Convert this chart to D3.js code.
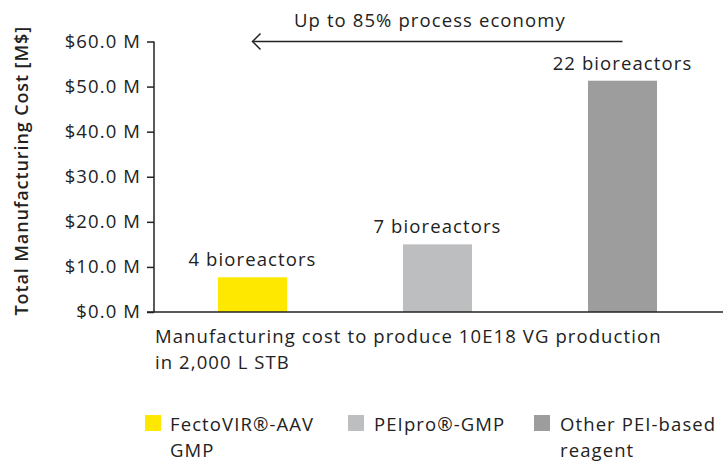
<!DOCTYPE html>
<html>
<head>
<meta charset="utf-8">
<script src="https://cdn.jsdelivr.net/npm/d3@7"></script>
<style>
  body { margin: 0; background: #fff; }
  svg { display: block; font-family: "Open Sans", sans-serif; letter-spacing: 1.1px; }
</style>
</head>
<body>
<div id="chart"></div>
<script>
// chart data
const reagents = ['FectoVIR®-AAV GMP', 'PEIpro®-GMP', 'Other PEI-based reagent'];
const costs = [7.7, 15.0, 51.3]; // M$
const barLabels = ['4 bioreactors', '7 bioreactors', '22 bioreactors'];
const colors = ['#ffe800', '#bdbec0', '#9d9d9d'];
const legendLines = [['FectoVIR®-AAV', 'GMP'], ['PEIpro®-GMP'], ['Other PEI-based', 'reagent']];
const yTicks = [0, 10, 20, 30, 40, 50, 60];

const width = 723;
const height = 465;
const margin = { top: 41.5, right: 0, bottom: 153, left: 154 };
const fs = '18.5px';

const svg = d3.select('#chart')
  .append('svg')
  .attr('width', width)
  .attr('height', height);

const x = d3.scaleBand()
  .domain(reagents)
  .range([160, 715])
  .paddingInner(0.627)
  .paddingOuter(0.3135);

const y = d3.scaleLinear()
  .domain([0, 60])
  .range([height - margin.bottom, margin.top]);

// y axis
const yAxis = svg.append('g')
  .attr('transform', `translate(${margin.left},0)`)
  .call(d3.axisLeft(y).tickValues(yTicks).tickSize(7).tickPadding(6)
    .tickFormat((d) => `$${d.toFixed(1)} M`));
yAxis.select('.domain').attr('stroke', '#222').attr('stroke-width', 1.5)
  .attr('d', `M0,${y(0)}V${y(60)}`);
yAxis.selectAll('.tick line').attr('stroke', '#222').attr('stroke-width', 1.5);
yAxis.selectAll('.tick text')
  .attr('fill', '#222')
  .style('font-family', '"Open Sans", sans-serif')
  .style('font-size', fs);

// bars
svg.append('g')
  .selectAll('rect')
  .data(reagents)
  .join('rect')
  .attr('x', (d) => x(d))
  .attr('width', x.bandwidth())
  .attr('y', (d, i) => y(costs[i]))
  .attr('height', (d, i) => y(0) - y(costs[i]))
  .attr('fill', (d, i) => colors[i]);

// x axis line
svg.append('line')
  .attr('x1', margin.left - 7)
  .attr('x2', width)
  .attr('y1', y(0))
  .attr('y2', y(0))
  .attr('stroke', '#222')
  .attr('stroke-width', 1.5);

// bar labels
svg.append('g')
  .selectAll('text')
  .data(reagents)
  .join('text')
  .attr('x', (d) => x(d) + x.bandwidth() / 2)
  .attr('y', (d, i) => y(costs[i]) - 11)
  .attr('text-anchor', 'middle')
  .attr('fill', '#222')
  .style('font-size', fs)
  .text((d, i) => barLabels[i]);

// y axis title
svg.append('text')
  .attr('transform', `translate(28,${(y(0) + y(60)) / 2 - 6}) rotate(-90)`)
  .attr('text-anchor', 'middle')
  .attr('fill', '#222')
  .style('font-size', '18px')
  .style('letter-spacing', '0.9px')
  .style('font-weight', '600')
  .text('Total Manufacturing Cost [M$]');

// x caption
const caption = svg.append('text')
  .attr('fill', '#222')
  .style('font-size', fs);
caption.append('tspan').attr('x', 155).attr('y', 343)
  .text('Manufacturing cost to produce 10E18 VG production');
caption.append('tspan').attr('x', 155).attr('y', 369)
  .text('in 2,000 L STB');

// arrow annotation
const arrowY = y(60);
const x0 = x(reagents[0]) + x.bandwidth() / 2;
const x2 = x(reagents[2]) + x.bandwidth() / 2;
svg.append('line')
  .attr('x1', x0 + 1).attr('x2', x2)
  .attr('y1', arrowY).attr('y2', arrowY)
  .attr('stroke', '#222').attr('stroke-width', 1.5);
svg.append('path')
  .attr('d', `M${x0 + 8},${arrowY - 8}L${x0},${arrowY}L${x0 + 8},${arrowY + 8}`)
  .attr('fill', 'none')
  .attr('stroke', '#222')
  .attr('stroke-width', 1.5);
svg.append('text')
  .attr('x', 294)
  .attr('y', 27)
  .attr('fill', '#222')
  .style('font-size', fs)
  .text('Up to 85% process economy');

// legend
const legendX = [145, 348, 534];
const legend = svg.append('g')
  .selectAll('g')
  .data(reagents)
  .join('g')
  .attr('transform', (d, i) => `translate(${legendX[i]},415)`);
legend.append('rect')
  .attr('width', 16)
  .attr('height', 16)
  .attr('fill', (d, i) => colors[i]);
legend.append('text')
  .attr('fill', '#222')
  .style('font-size', fs)
  .each(function (d, i) {
    const t = d3.select(this);
    legendLines[i].forEach((line, j) => {
      t.append('tspan')
        .attr('x', i === 0 ? 25 : 26)
        .attr('y', 16 + j * 26)
        .text(line);
    });
  });
</script>
</body>
</html>
